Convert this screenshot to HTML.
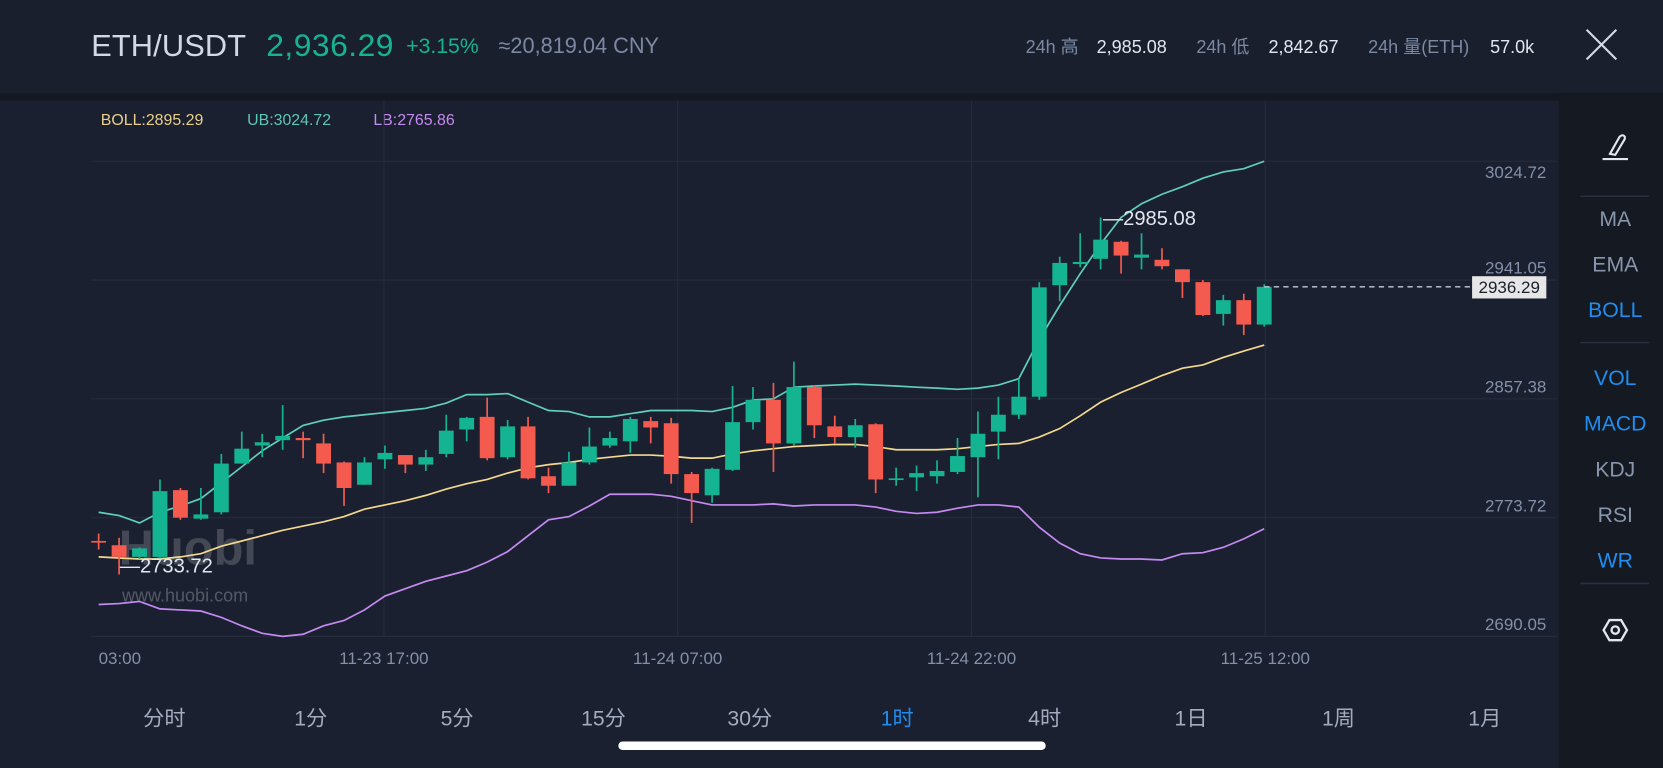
<!DOCTYPE html>
<html><head><meta charset="utf-8">
<style>
html,body{margin:0;padding:0;background:#1b2030;overflow:hidden;}
svg{display:block;font-family:"Liberation Sans","Noto Sans CJK SC",sans-serif;}
</style></head>
<body>
<svg id="chart" width="1663" height="768" viewBox="0 0 1568 724" preserveAspectRatio="none" xmlns="http://www.w3.org/2000/svg">
  <rect x="0" y="0" width="1568" height="724" fill="#1b2030"/>
  <rect x="0" y="0" width="1568" height="88" fill="#1a1f2e"/>
  <rect x="0" y="88" width="1568" height="7" fill="#141822"/>
  <rect x="1470" y="88" width="98" height="636" fill="#151922"/>
  <path d="M0 95 H1452 A16 16 0 0 1 1468 111 V724 H0 Z" fill="#1b2030"/>

  <text x="86" y="53" font-size="29" fill="#d3d8e6" textLength="146">ETH/USDT</text>
  <text x="251" y="53" font-size="30" fill="#16b392" textLength="120">2,936.29</text>
  <text x="383" y="50" font-size="20" fill="#16b392">+3.15%</text>
  <text x="470" y="50" font-size="20.5" fill="#7b89a3">≈20,819.04 CNY</text>
  <text x="967" y="50" font-size="17" fill="#7b89a3">24h 高</text>
  <text x="1034" y="50" font-size="17" fill="#e2e6ef">2,985.08</text>
  <text x="1128" y="50" font-size="17" fill="#7b89a3">24h 低</text>
  <text x="1196" y="50" font-size="17" fill="#e2e6ef">2,842.67</text>
  <text x="1290" y="50" font-size="17" fill="#7b89a3">24h 量(ETH)</text>
  <text x="1405" y="50" font-size="17" fill="#e2e6ef">57.0k</text>
  <g stroke="#d3d8e6" stroke-width="2">
    <line x1="1496" y1="28" x2="1524" y2="56"/><line x1="1524" y1="28" x2="1496" y2="56"/>
  </g>

  <text x="95" y="118" font-size="15" fill="#e8cf8a">BOLL:2895.29</text>
  <text x="233" y="118" font-size="15" fill="#5bc8b4">UB:3024.72</text>
  <text x="352" y="118" font-size="15" fill="#c58af0">LB:2765.86</text>

  <g>
    <text x="112" y="532" font-size="46" font-weight="bold" fill="#4a4f5b" opacity="0.85">Huobi</text>
    <text x="115" y="567" font-size="17" fill="#535966">www.huobi.com</text>
  </g>

  <g id="grid"></g>
  <g id="bands"></g>
  <g id="candles"></g>
  <g id="axes"></g>

  <g font-size="20" fill="#a3acbf" text-anchor="middle">
    <text x="155" y="684">分时</text>
    <text x="293" y="684">1分</text>
    <text x="431" y="684">5分</text>
    <text x="569" y="684">15分</text>
    <text x="707" y="684">30分</text>
    <text x="846" y="684" fill="#1f8ef0">1时</text>
    <text x="985" y="684">4时</text>
    <text x="1123" y="684">1日</text>
    <text x="1262" y="684">1周</text>
    <text x="1400" y="684">1月</text>
  </g>
  <rect x="583" y="699" width="403" height="8" rx="4" fill="#ffffff"/>

  <g font-size="20" text-anchor="middle" fill="#8795ad">
    <g stroke="#e2e6ef" stroke-width="2" fill="none">
      <path d="M1518 145 L1527 129 Q1530 126 1532 129 L1532 131 L1523 146 Z"/>
      <line x1="1511" y1="150" x2="1535" y2="150"/>
    </g>
    <line x1="1490" y1="185" x2="1555" y2="185" stroke="#2a3040" stroke-width="1.5"/>
    <text x="1523" y="213">MA</text>
    <text x="1523" y="256">EMA</text>
    <text x="1523" y="299" fill="#1f8ef0">BOLL</text>
    <line x1="1490" y1="323" x2="1555" y2="323" stroke="#2a3040" stroke-width="1.5"/>
    <text x="1523" y="363" fill="#1f8ef0">VOL</text>
    <text x="1523" y="406" fill="#1f8ef0">MACD</text>
    <text x="1523" y="449">KDJ</text>
    <text x="1523" y="492">RSI</text>
    <text x="1523" y="535" fill="#1f8ef0">WR</text>
    <line x1="1490" y1="550" x2="1555" y2="550" stroke="#2a3040" stroke-width="1.5"/>
    <g fill="none" stroke="#e2e6ef" stroke-width="2.2">
      <polygon points="1512,594 1517.5,584.5 1528.5,584.5 1534,594 1528.5,603.5 1517.5,603.5"/>
      <circle cx="1523" cy="594" r="3.5"/>
    </g>
  </g>
</svg>
<script>
const times = ["03:00","11-23 17:00","11-24 07:00","11-24 22:00","11-25 12:00"];
const priceTicks = [3024.72, 2941.05, 2857.38, 2773.72, 2690.05];
const opens  = [2757.3,2754.3,2746.1,2746.1,2793.1,2773.0,2777.5,2811.8,2824.5,2828.3,2829.8,2826.0,2812.6,2796.9,2814.8,2817.8,2811.1,2818.6,2835.8,2844.7,2816.3,2838.0,2802.9,2796.2,2812.6,2824.5,2827.5,2841.7,2840.2,2804.4,2789.5,2807.4,2841.0,2856.7,2826.0,2865.7,2838.0,2830.5,2839.5,2800.6,2802.1,2802.9,2805.9,2816.3,2834.3,2846.2,2858.9,2937.4,2952.3,2956.0,2968.0,2956.8,2955.3,2948.6,2939.6,2917.2,2926.9,2909.7];
const highs  = [2762.5,2759.5,2752.8,2800.6,2794.6,2794.6,2818.6,2834.3,2832.8,2853.0,2834.3,2832.8,2813.3,2816.3,2824.5,2817.8,2821.5,2846.2,2844.7,2858.2,2842.5,2844.7,2808.9,2820.1,2837.2,2834.3,2844.7,2844.7,2844.0,2805.9,2808.9,2866.4,2865.7,2868.6,2883.6,2867.1,2845.5,2843.2,2840.2,2808.9,2810.4,2814.1,2829.8,2848.5,2858.9,2871.6,2939.6,2957.5,2974.0,2985.08,2968.7,2974.0,2963.5,2948.6,2941.1,2930.6,2931.4,2938.1];
const lows   = [2751.3,2733.72,2744.6,2744.6,2772.2,2772.2,2776.0,2811.8,2816.3,2821.5,2815.6,2805.1,2782.0,2796.9,2808.1,2805.1,2806.6,2816.3,2827.5,2814.1,2814.8,2800.6,2791.0,2796.2,2811.1,2823.0,2819.3,2826.0,2797.7,2770.0,2784.2,2806.6,2835.8,2805.9,2824.5,2829.8,2826.0,2823.0,2791.0,2796.2,2792.4,2797.7,2804.4,2788.0,2814.8,2843.2,2856.7,2926.1,2950.1,2948.6,2945.6,2948.6,2948.6,2928.4,2915.7,2909.0,2902.3,2908.2];
const closes = [2756.9,2746.1,2752.1,2792.4,2773.7,2776.0,2811.8,2822.3,2826.8,2831.3,2828.3,2811.8,2794.6,2812.6,2819.3,2811.1,2816.3,2835.0,2844.0,2815.6,2838.0,2801.4,2796.2,2812.6,2823.8,2829.8,2843.2,2837.2,2804.4,2791.0,2808.1,2841.0,2856.7,2826.0,2865.7,2838.8,2830.5,2838.8,2800.6,2801.4,2805.1,2806.6,2817.1,2832.8,2846.2,2858.9,2935.9,2953.1,2953.8,2969.5,2958.3,2959.0,2950.8,2939.6,2916.4,2926.9,2909.7,2936.29];
const upperBand = [2777.5,2775.2,2770.0,2777.5,2781.9,2787.2,2798.4,2809.6,2820.8,2829.8,2838.7,2842.4,2844.7,2846.2,2847.7,2849.2,2850.7,2854.4,2860.4,2860.4,2861.1,2855.1,2849.2,2848.4,2844.7,2844.7,2846.9,2849.2,2849.2,2849.2,2848.4,2851.4,2856.6,2857.4,2865.6,2866.4,2867.1,2867.8,2867.1,2866.4,2865.6,2864.9,2864.1,2864.9,2867.1,2871.6,2899.2,2923.1,2945.5,2966.4,2985.1,2994.8,3001.5,3006.8,3012.8,3017.2,3019.5,3024.72];
const midBand = [2746.1,2745.3,2744.6,2744.6,2746.1,2748.3,2753.6,2757.3,2761.0,2764.8,2767.8,2770.8,2774.5,2779.7,2782.7,2785.7,2789.4,2793.9,2797.6,2800.6,2805.1,2808.8,2811.1,2812.6,2814.8,2816.3,2817.8,2817.8,2817.0,2815.6,2815.6,2818.6,2820.8,2822.3,2823.8,2824.5,2825.3,2825.3,2823.8,2821.5,2821.5,2821.5,2822.3,2823.8,2825.3,2826.0,2830.5,2836.5,2845.4,2855.1,2861.9,2867.8,2873.8,2879.0,2881.3,2886.5,2891.0,2895.29];
const lowerBand = [2712.5,2713.2,2714.7,2709.5,2708.7,2708.0,2703.5,2697.5,2692.3,2690.1,2691.6,2697.5,2701.3,2708.7,2718.5,2723.7,2728.9,2732.6,2736.4,2742.4,2749.8,2761.0,2772.2,2774.5,2781.9,2790.2,2790.2,2790.2,2788.7,2785.7,2782.7,2782.7,2782.7,2783.4,2781.9,2782.7,2782.7,2782.7,2781.2,2778.2,2776.7,2777.5,2780.4,2782.7,2782.7,2781.2,2767.0,2755.8,2748.3,2745.3,2744.6,2744.6,2743.9,2748.3,2749.1,2752.8,2758.8,2765.86];
const lastPrice = 2936.29;
const maxPrice = 2985.08;
const minPrice = 2733.72;

const NS = "http://www.w3.org/2000/svg";
const Y_TOP = 152, Y_BOT = 600, P_TOP = 3024.72, P_BOT = 2690.05;
const X0 = 93, STEP = 1099 / 57;
function yScale(p){ return Y_TOP + (P_TOP - p) / (P_TOP - P_BOT) * (Y_BOT - Y_TOP); }
function xScale(i){ return X0 + i * STEP; }
function mk(tag, attrs, parent){ const e = document.createElementNS(NS, tag); for (const k in attrs) e.setAttribute(k, attrs[k]); parent.appendChild(e); return e; }

const grid = document.getElementById("grid");
const axes = document.getElementById("axes");
priceTicks.forEach((p, k) => {
  const y = yScale(p);
  const gl = mk("line", {x1: 86, x2: 1468, y1: y, y2: y, stroke: "#262c3b", "stroke-width": 1}, grid);
  
  
  const ty = k === 0 ? y + 16 : y - 6;
  const t = mk("text", {x: 1458, y: ty, "font-size": 16, fill: "#8390a8", "text-anchor": "end"}, axes);
  t.textContent = p.toFixed(2);
  
  
});
const timeX = [113, 362, 639, 916, 1193];
times.forEach((s, k) => {
  if (k > 0) {
    const vl = mk("line", {x1: timeX[k], x2: timeX[k], y1: 95, y2: 600, stroke: "#262c3b", "stroke-width": 1}, grid);
    
    
  }
  const t = mk("text", {x: timeX[k], y: 626, "font-size": 16, fill: "#8390a8", "text-anchor": "middle"}, axes);
  t.textContent = s;
  
  
});

const bands = document.getElementById("bands");
function band(arr, color, name){
  const d = arr.map((v, i) => (i ? "L" : "M") + xScale(i).toFixed(1) + " " + yScale(v).toFixed(1)).join(" ");
  const p = mk("path", {d: d, fill: "none", stroke: color, "stroke-width": 1.6}, bands);
  
  
}
band(upperBand, "#5fcfb9", "upper-band-line");
band(midBand, "#f3d98d", "boll-mid-line");
band(lowerBand, "#c58af2", "lower-band-line");

const cg = document.getElementById("candles");
opens.forEach((o, i) => {
  const c = closes[i], x = xScale(i);
  const up = c >= o;
  const col = up ? "#14b392" : "#f45b4e";
  const g = mk("g", {}, cg);
  
  
  mk("line", {x1: x, x2: x, y1: yScale(highs[i]), y2: yScale(lows[i]), stroke: col, "stroke-width": 1.6}, g);
  const top = yScale(Math.max(o, c)), bot = yScale(Math.min(o, c));
  mk("rect", {x: x - 7, y: top, width: 14, height: Math.max(bot - top, 1.6), fill: col}, g);
});

const yl = yScale(lastPrice);
const dl = mk("line", {x1: xScale(57), x2: 1388, y1: yl, y2: yl, stroke: "#c5cad6", "stroke-width": 1.2, "stroke-dasharray": "5 4"}, axes);


const lb = mk("rect", {x: 1388, y: yl - 10, width: 70, height: 21, fill: "#e6e6e6"}, axes);


const lt = mk("text", {x: 1423, y: yl + 6, "font-size": 16, fill: "#1b1f2a", "text-anchor": "middle"}, axes);
lt.textContent = lastPrice.toFixed(2);



const mx = mk("text", {x: 1040, y: yScale(maxPrice) + 7, "font-size": 19, fill: "#e2e6ef"}, axes);
mx.textContent = "—" + maxPrice.toFixed(2);


const mn = mk("text", {x: 113, y: yScale(minPrice) - 2, "font-size": 19, fill: "#e2e6ef"}, axes);
mn.textContent = "—" + minPrice.toFixed(2);


</script>
</body></html>
